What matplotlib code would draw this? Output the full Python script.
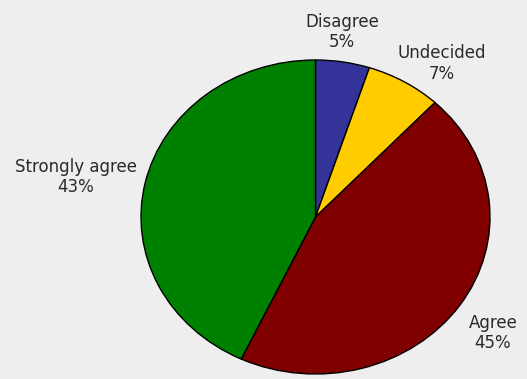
import matplotlib.pyplot as plt

labels = ['Disagree', 'Undecided', 'Agree', 'Strongly agree']
shares = [5, 7, 45, 43]
colors = ['#333399', '#ffcc00', '#800000', '#008000']


def main():
    fig = plt.figure(figsize=(5.27, 3.79), dpi=100, facecolor='#eeeeee')
    # pie is drawn a bit squashed in the original, so the axes box sets the ellipse
    ax = fig.add_axes([141 / 527, 5 / 379, 349 / 527, 314 / 379])
    ax.set_facecolor('#eeeeee')
    ax.pie(shares, colors=colors, startangle=90, counterclock=False,
           wedgeprops=dict(edgecolor='black', linewidth=1.0))
    ax.set_aspect('auto')
    ax.set_xlim(-1, 1)
    ax.set_ylim(-1, 1)

    # label anchors in pie units (radius 1)
    spots = [(0.152, 1.178), (0.725, 0.98), (1.017, -0.739), (-1.372, 0.255)]
    for name, val, (x, y) in zip(labels, shares, spots):
        ax.text(x, y, f'{name}\n{val}%', ha='center', va='center',
                fontsize=12, color='#2a2a2a', linespacing=1.2, clip_on=False)

    fig.savefig('out.png', dpi=100, facecolor=fig.get_facecolor())


if __name__ == "__main__":
    main()
